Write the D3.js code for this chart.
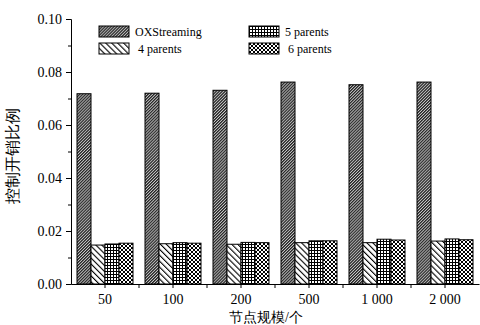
<!DOCTYPE html>
<html>
<head>
<meta charset="utf-8">
<script src="https://cdn.jsdelivr.net/npm/d3@7"></script>
<style>
  body { margin: 0; background: #fff; }
  text { font-family: "Liberation Serif", "DejaVu Serif", serif; }
</style>
</head>
<body>
<div class="chart"></div>
<script>
var svgWidth = 480;
var svgHeight = 325;

var margin = { top: 19, right: 1, bottom: 41, left: 71 };
var width = svgWidth - margin.left - margin.right;
var height = svgHeight - margin.top - margin.bottom;

// data
var categories = ["50", "100", "200", "500", "1 000", "2 000"];
var seriesNames = ["OXStreaming", "4 parents", "5 parents", "6 parents"];
var oxStreaming = [0.0718, 0.0720, 0.0731, 0.0762, 0.0752, 0.0762];
var parents4 = [0.0147, 0.0152, 0.0150, 0.0156, 0.0156, 0.0162];
var parents5 = [0.0151, 0.0156, 0.0157, 0.0163, 0.0169, 0.0170];
var parents6 = [0.0154, 0.0154, 0.0156, 0.0163, 0.0166, 0.0167];
var yTicks = [0, 0.02, 0.04, 0.06, 0.08, 0.10];

var seriesValues = [oxStreaming, parents4, parents5, parents6];

var svg = d3.select(".chart").append("svg")
  .attr("width", svgWidth)
  .attr("height", svgHeight);

// hatch patterns
var defs = svg.append("defs");

// dense forward hatch
var p0 = defs.append("pattern").attr("id", "pat0")
  .attr("patternUnits", "userSpaceOnUse").attr("width", 2.1).attr("height", 4)
  .attr("patternTransform", "rotate(45)");
p0.append("rect").attr("width", 2.1).attr("height", 4).attr("fill", "#c8c8c8");
p0.append("rect").attr("width", 1.2).attr("height", 4).attr("fill", "#222");

// sparse back hatch
var p1 = defs.append("pattern").attr("id", "pat1")
  .attr("patternUnits", "userSpaceOnUse").attr("width", 4.2).attr("height", 4)
  .attr("patternTransform", "rotate(-45)");
p1.append("rect").attr("width", 4.2).attr("height", 4).attr("fill", "#fff");
p1.append("rect").attr("width", 1.1).attr("height", 4).attr("fill", "#000");

// square grid
var p2 = defs.append("pattern").attr("id", "pat2")
  .attr("patternUnits", "userSpaceOnUse").attr("width", 3).attr("height", 3);
p2.append("rect").attr("width", 3).attr("height", 3).attr("fill", "#fff");
p2.append("path").attr("d", "M0.5,0 v3 M0,0.5 h3")
  .attr("stroke", "#000").attr("stroke-width", 1);

// checker
var p3 = defs.append("pattern").attr("id", "pat3")
  .attr("patternUnits", "userSpaceOnUse").attr("width", 4).attr("height", 4);
p3.append("rect").attr("width", 4).attr("height", 4).attr("fill", "#fff");
p3.append("rect").attr("width", 2).attr("height", 2).attr("fill", "#000");
p3.append("rect").attr("x", 2).attr("y", 2).attr("width", 2).attr("height", 2).attr("fill", "#000");

var chartGroup = svg.append("g")
  .attr("transform", `translate(${margin.left}, ${margin.top})`);

var x0 = d3.scaleBand().domain(categories).range([0, width]).paddingInner(0).paddingOuter(0);
var x1 = d3.scaleBand().domain(d3.range(seriesNames.length))
  .range([6, x0.bandwidth() - 6]);
var y = d3.scaleLinear().domain([0, 0.10]).range([height, 0]);

// bars
categories.forEach(function(cat, ci) {
  seriesValues.forEach(function(vals, si) {
    chartGroup.append("rect")
      .attr("x", x0(cat) + x1(si))
      .attr("y", y(vals[ci]))
      .attr("width", x1.bandwidth())
      .attr("height", height - y(vals[ci]))
      .attr("fill", "url(#pat" + si + ")")
      .attr("stroke", "#000")
      .attr("stroke-width", 1);
  });
});

// y axis
var leftAxis = d3.axisLeft(y).tickValues(yTicks).tickFormat(d3.format(".2f"))
  .tickSize(5).tickPadding(4);
chartGroup.append("g").call(leftAxis);
chartGroup.append("g")
  .call(d3.axisLeft(y).tickValues([0.01, 0.03, 0.05, 0.07, 0.09]).tickSize(3).tickFormat(""))
  .select(".domain").remove();

// x axis
var bottomAxis = d3.axisBottom(x0).tickSize(4).tickPadding(6).tickSizeOuter(0);
chartGroup.append("g")
  .attr("transform", `translate(0, ${height})`)
  .call(bottomAxis);
// ticks at group boundaries
chartGroup.append("g")
  .attr("transform", `translate(0, ${height})`)
  .selectAll("line")
  .data(categories.slice(1))
  .enter()
  .append("line")
  .attr("x1", function(d) { return x0(d); })
  .attr("x2", function(d) { return x0(d); })
  .attr("y1", 0).attr("y2", 4)
  .attr("stroke", "#000");

svg.selectAll(".tick text").attr("font-size", "14px")
  .attr("font-family", "Liberation Serif, serif").attr("fill", "#000");
svg.selectAll(".domain, .tick line").attr("stroke", "#000");

// axis titles
chartGroup.append("text")
  .attr("transform", "rotate(-90)")
  .attr("x", 0 - 137)
  .attr("y", -53)
  .attr("text-anchor", "middle")
  .attr("font-size", "16px")
  .attr("font-family", "Noto Sans CJK SC")
  .text("控制开销比例");

chartGroup.append("text")
  .attr("x", 195)
  .attr("y", height + 38)
  .attr("text-anchor", "middle")
  .attr("font-size", "14px")
  .attr("font-family", "Noto Sans CJK SC")
  .text("节点规模/个");

// legend
var legendPos = [[99, 26], [99, 43], [249, 26], [249, 43]];
seriesNames.forEach(function(name, i) {
  var lg = svg.append("g")
    .attr("transform", `translate(${legendPos[i][0]}, ${legendPos[i][1]})`);
  lg.append("rect")
    .attr("width", 30).attr("height", 11)
    .attr("fill", "url(#pat" + i + ")")
    .attr("stroke", "#000");
  lg.append("text")
    .attr("x", i % 2 === 0 ? 36 : 39)
    .attr("y", 10)
    .attr("font-size", "12px")
    .text(name);
});
</script>
</body>
</html>
